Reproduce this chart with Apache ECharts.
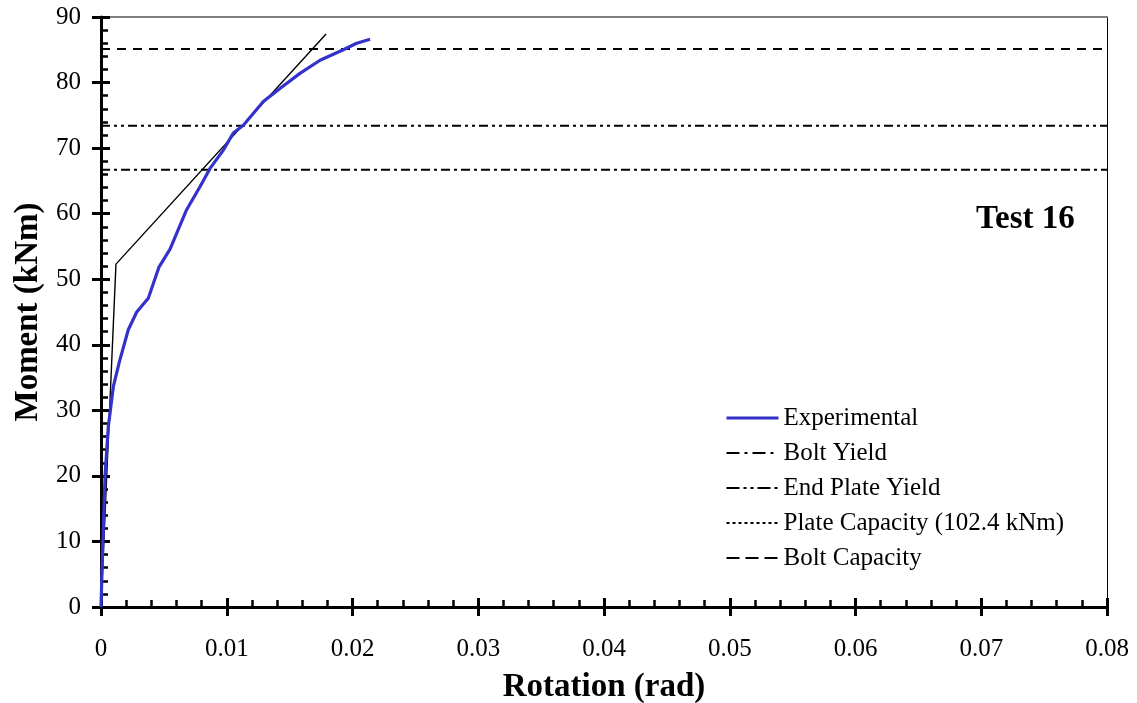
<!DOCTYPE html>
<html>
<head>
<meta charset="utf-8">
<script src="https://cdn.jsdelivr.net/npm/echarts@6/dist/echarts.min.js"></script>
<style>html,body{margin:0;padding:0;background:#fff;}#chart{width:1137px;height:703px;}</style>
</head>
<body>
<div id="chart"></div>
<script>
// Experimental moment-rotation curve (Test 16)
var expRotation = [0, 0.00013, 0.00032, 0.00058, 0.00098, 0.00146, 0.00217, 0.00284, 0.00376, 0.00460, 0.00549, 0.00681, 0.00787, 0.00867, 0.00973, 0.01052, 0.01132, 0.01291, 0.01423, 0.01582, 0.01742, 0.01927, 0.02033, 0.02140];
var expMoment   = [0, 8.7, 19.9, 27.5, 33.6, 37.4, 42.3, 45.0, 47.1, 51.8, 54.6, 60.6, 64.1, 66.9, 69.7, 72.3, 73.5, 77.1, 79.1, 81.4, 83.4, 85.0, 86.0, 86.6];
// Bilinear model line
var modelRotation = [0, 0.00119, 0.0179];
var modelMoment   = [0, 52.3, 87.4];
// Reference capacity levels (kNm)
var boltYield = 66.7;
var endPlateYield = 73.4;
var plateCapacity = 102.4;
var boltCapacity = 85.1;
var xRange = [0, 0.08];
var seriesNames = ['Experimental', 'Bolt Yield', 'End Plate Yield', 'Plate Capacity (102.4 kNm)', 'Bolt Capacity'];
var xTitle = 'Rotation (rad)';
var yTitle = 'Moment (kNm)';
var testLabel = 'Test 16';

var FONT = 'Liberation Serif';
function pairs(xs, ys) { return xs.map(function (x, i) { return [x, ys[i]]; }); }
function hline(v) { return [[xRange[0], v], [xRange[1], v]]; }

var chart = echarts.init(document.getElementById('chart'));
var xBase = {type: 'value', min: 0, max: 0.08, interval: 0.01, gridIndex: 0, splitLine: {show: false}};
var yBase = {type: 'value', min: 0, max: 90, interval: 10, gridIndex: 0, splitLine: {show: false}};
function ext(a, b) { return Object.assign({}, a, b); }

var legendDash = ['solid', [13, 5, 3, 5], [13, 4, 3, 4, 3, 4], [3, 3], [13, 6]];
var legendData = seriesNames.map(function (n, i) {
  return {name: n, lineStyle: {width: i === 0 ? 3 : 2, type: legendDash[i]}};
});

var option = {
  animation: false,
  backgroundColor: '#fff',
  grid: {left: 101, right: 30, top: 17, bottom: 96, containLabel: false, outerBoundsMode: 'none'},
  title: {text: testLabel, left: 976, top: 203, padding: 0,
    textStyle: {fontFamily: FONT, fontSize: 33, fontWeight: 'bold', color: '#000'}},
  legend: {
    orient: 'vertical', left: 725, top: 405, padding: 0, itemWidth: 52, itemHeight: 14, itemGap: 9,
    selectedMode: false, data: legendData,
    itemStyle: {color: 'rgba(0,0,0,0)', borderColor: 'rgba(0,0,0,0)', borderWidth: 0},
    textStyle: {fontFamily: FONT, fontSize: 25, color: '#000', lineHeight: 26}
  },
  xAxis: [
    ext(xBase, {position: 'bottom',
      axisLine: {onZero: false, lineStyle: {color: '#000', width: 3}},
      axisTick: {show: true, inside: false, length: 9, lineStyle: {color: '#000', width: 3}},
      axisLabel: {fontFamily: FONT, fontSize: 25, color: '#000', margin: 30},
      name: xTitle, nameLocation: 'middle', nameGap: 64,
      nameTextStyle: {fontFamily: FONT, fontSize: 33, fontWeight: 'bold', color: '#000'}}),
    ext(xBase, {position: 'bottom',
      axisLine: {show: false, onZero: false},
      axisTick: {show: true, inside: true, length: 9, lineStyle: {color: '#000', width: 3}},
      minorTick: {show: true, splitNumber: 5, length: 7, lineStyle: {color: '#000', width: 2.5}},
      axisLabel: {show: false}}),
    ext(xBase, {position: 'top',
      axisLine: {show: true, onZero: false, lineStyle: {color: '#808080', width: 2}},
      axisTick: {show: false}, axisLabel: {show: false}})
  ],
  yAxis: [
    ext(yBase, {position: 'left',
      axisLine: {show: true, onZero: false, lineStyle: {color: '#000', width: 3}},
      axisTick: {show: true, inside: false, length: 9, lineStyle: {color: '#000', width: 3}},
      axisLabel: {fontFamily: FONT, fontSize: 25, color: '#000', margin: 20},
      name: yTitle, nameLocation: 'middle', nameGap: 54, nameRotate: 90,
      nameTextStyle: {fontFamily: FONT, fontSize: 33, fontWeight: 'bold', color: '#000'}}),
    ext(yBase, {position: 'left',
      axisLine: {show: false, onZero: false},
      axisTick: {show: true, inside: true, length: 9, lineStyle: {color: '#000', width: 3}},
      minorTick: {show: true, splitNumber: 5, length: 7, lineStyle: {color: '#000', width: 2.5}},
      axisLabel: {show: false}}),
    ext(yBase, {position: 'right',
      axisLine: {show: true, onZero: false, lineStyle: {color: '#000', width: 1}},
      axisTick: {show: false}, axisLabel: {show: false}})
  ],
  series: [
    {name: 'Model', type: 'line', data: pairs(modelRotation, modelMoment), symbol: 'none',
      lineStyle: {color: '#000', width: 1.4}, itemStyle: {color: '#000'}, z: 3},
    {name: seriesNames[0], type: 'line', data: pairs(expRotation, expMoment), symbol: 'none',
      lineStyle: {color: '#3333CC', width: 3.2}, itemStyle: {color: '#3333CC'}, z: 4},
    {name: seriesNames[1], type: 'line', data: hline(boltYield), symbol: 'none',
      lineStyle: {color: '#000', width: 2, type: [9, 4, 3, 4]}, itemStyle: {color: '#000'}},
    {name: seriesNames[2], type: 'line', data: hline(endPlateYield), symbol: 'none',
      lineStyle: {color: '#000', width: 2, type: [9, 4, 3, 4, 3, 4]}, itemStyle: {color: '#000'}},
    {name: seriesNames[3], type: 'line', data: hline(plateCapacity), symbol: 'none', clip: true,
      lineStyle: {color: '#000', width: 2, type: [3, 3]}, itemStyle: {color: '#000'}},
    {name: seriesNames[4], type: 'line', data: hline(boltCapacity), symbol: 'none',
      lineStyle: {color: '#000', width: 2, type: [9, 7]}, itemStyle: {color: '#000'}}
  ]
};
chart.setOption(option);
</script>
</body>
</html>
